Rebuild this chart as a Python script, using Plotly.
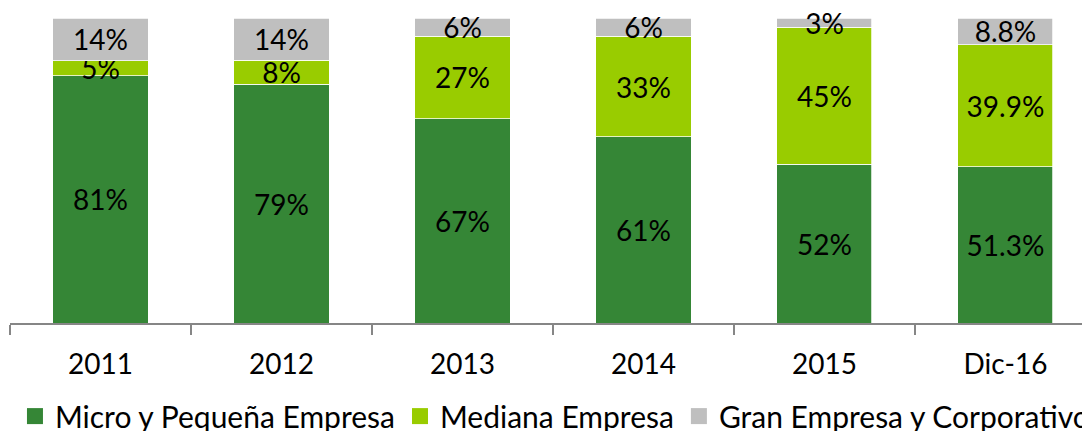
import plotly.graph_objects as go

categories = ["2011", "2012", "2013", "2014", "2015", "Dic-16"]
micro = [81, 79, 67, 61, 52, 51.3]
mediana = [5, 8, 27, 33, 45, 39.9]
gran = [14, 14, 6, 6, 3, 8.8]
micro_labels = ["81%", "79%", "67%", "61%", "52%", "51.3%"]
mediana_labels = ["5%", "8%", "27%", "33%", "45%", "39.9%"]
gran_labels = ["14%", "14%", "6%", "6%", "3%", "8.8%"]
series_names = ["Micro y Pequeña Empresa", "Mediana Empresa", "Gran Empresa y Corporativo"]
colors = ["#358636", "#99CC00", "#BFBFBF"]

FONT = "Lato, Calibri, Carlito, sans-serif"
fig = go.Figure()
for vals, labels, name, col in zip([micro, mediana, gran],
                                   [micro_labels, mediana_labels, gran_labels],
                                   series_names, colors):
    fig.add_trace(go.Bar(
        x=categories, y=vals, name=name, text=labels,
        marker=dict(color=col, line=dict(color="white", width=0.75)),
        textposition="inside", insidetextanchor="middle", textangle=0,
        constraintext="none", cliponaxis=False,
        textfont=dict(family=FONT, size=28, color="black"),
        showlegend=False, hoverinfo="skip",
    ))
# legend entries with larger square symbols
for name, col in zip(series_names, colors):
    fig.add_trace(go.Scatter(
        x=[None], y=[None], mode="markers", name=name,
        marker=dict(symbol="square", size=17, color=col),
        showlegend=True,
    ))

# page body has an 8px default margin: figure is offset by 8px right/down
fig.update_layout(
    width=1082, height=423,
    margin=dict(l=2, r=0, t=10, b=108, autoexpand=False),
    paper_bgcolor="white", plot_bgcolor="white",
    barmode="stack", barnorm="percent", bargap=0.475,
    font=dict(family=FONT, size=28, color="black"),
    xaxis=dict(
        type="category", range=[-0.5, 5.467],
        showline=True, linecolor="#868686", linewidth=1.5,
        ticks="outside", tickson="boundaries", ticklen=10,
        tickcolor="#868686", tickwidth=1.5,
        tickfont=dict(family=FONT, size=28, color="black"),
        ticklabelstandoff=16,
        showgrid=False, zeroline=False,
    ),
    yaxis=dict(range=[0, 100], visible=False, showgrid=False),
    legend=dict(
        orientation="h", x=0.0046, xanchor="left", y=-0.22, yanchor="top",
        font=dict(family=FONT, size=30, color="black"),
        itemsizing="trace", traceorder="normal",
        bgcolor="rgba(0,0,0,0)",
    ),
    showlegend=True,
)
fig.write_html("out.html")
